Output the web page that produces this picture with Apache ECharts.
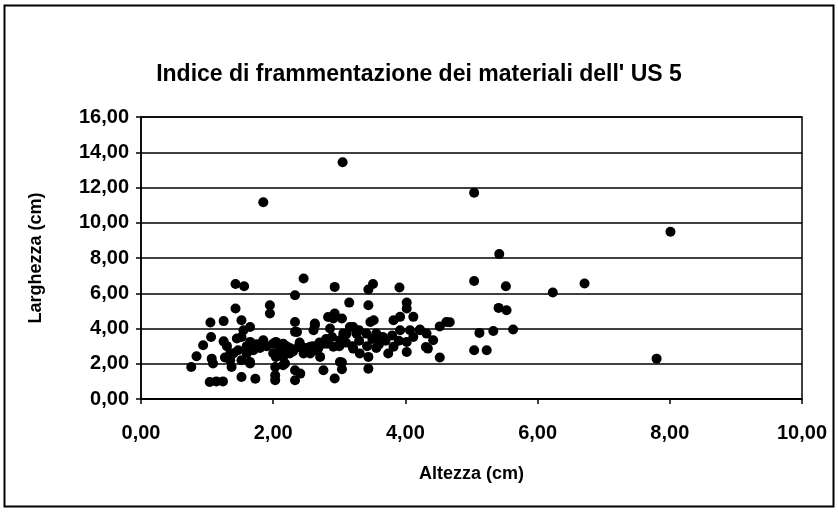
<!DOCTYPE html>
<html>
<head>
<meta charset="utf-8">
<script src="https://cdn.jsdelivr.net/npm/echarts@6/dist/echarts.min.js"></script>
<style>html,body{margin:0;padding:0;background:#fff}#c{width:838px;height:513px}</style>
</head>
<body>
<div id="c"></div>
<script>
const titleText = "Indice di frammentazione dei materiali dell' US 5";
const xName = "Altezza (cm)";
const yName = "Larghezza (cm)";
// Altezza (x) values
const altezza = [
3.05,1.85,5.04,8.01,5.42,5.04,5.52,6.23,6.71,5.41,5.53,4.67,5.12,5.33,5.63,5.04,5.23,7.80,
0.76,0.84,0.94,1.06,1.05,1.25,1.25,1.07,1.09,1.27,1.35,1.37,1.04,1.14,1.24,1.43,1.43,1.56,
1.52,1.55,1.65,1.45,1.52,1.65,1.70,1.47,1.52,1.65,1.52,1.73,1.85,1.95,1.95,2.04,2.04,2.03,
2.03,2.15,2.18,2.33,2.33,2.46,2.33,2.33,2.33,2.25,2.38,2.50,2.60,2.63,2.15,2.25,2.03,
1.80,1.90,2.10,2.20,2.40,2.50,1.75,2.00,2.30,1.60,1.40,1.30,
2.93,3.51,3.44,3.91,3.15,3.44,4.02,4.02,4.12,3.92,3.82,2.93,2.91,3.04,3.47,3.52,4.62,4.52,
2.63,2.61,3.21,3.11,3.26,3.41,3.56,3.66,3.92,4.07,4.22,4.32,4.02,4.12,4.42,4.34,4.02,3.74,
3.82,4.52,2.89,2.81,2.91,3.01,2.68,2.71,2.56,2.41,2.46,3.04,3.04,2.76,2.93,3.44,3.44,3.21,
3.31,2.41,3.00,3.10,3.30,3.50,2.80,3.20,3.60,2.70,3.70,4.22,4.31,
2.00,2.10,2.20,1.60,1.35,1.65,2.15,2.36,2.56,2.66,2.76,2.83,2.86,3.06,3.16,3.01,3.30,3.60,
3.80,3.90,3.56,3.42
];
// Larghezza (y) values
const larghezza = [
13.43,11.16,11.70,9.49,8.22,6.70,6.40,6.04,6.55,5.17,5.04,4.36,3.75,3.86,3.94,2.77,2.77,2.29,
1.82,2.43,3.05,3.52,4.34,4.42,3.27,2.29,2.01,2.35,2.20,1.82,0.96,1.00,1.00,5.13,6.52,6.40,
4.47,3.90,4.09,3.43,3.52,3.24,2.77,2.77,2.20,2.01,1.25,1.15,3.33,5.32,4.85,3.24,2.39,1.82,
1.07,3.14,2.01,4.37,3.81,6.84,5.89,1.63,1.06,2.90,2.95,2.90,3.00,4.19,2.39,2.58,1.34,
2.90,3.00,2.80,3.00,3.20,2.70,3.10,2.60,2.70,3.00,2.60,3.00,
6.36,6.52,6.21,6.33,5.47,5.32,5.47,5.13,4.66,4.66,4.47,4.85,4.57,4.57,4.37,4.47,4.37,4.12,
4.28,3.90,4.09,3.71,3.71,3.71,3.71,3.52,3.90,3.90,3.90,3.71,3.24,3.52,3.33,2.86,2.67,2.58,
2.96,2.35,3.52,3.14,2.96,3.33,2.86,2.39,2.58,3.05,2.58,2.07,1.69,1.63,1.16,2.39,1.72,2.86,
2.58,1.44,3.00,3.20,3.30,3.40,3.40,3.00,3.10,3.20,3.30,3.94,2.95,
3.14,2.96,2.77,2.58,2.58,2.10,1.91,3.80,2.96,2.77,3.14,4.65,4.00,3.71,4.09,2.10,3.90,3.50,
3.60,3.30,2.90,3.00
];
const points = altezza.map((x, i) => [x, larghezza[i]]);
const fmt = v => v.toFixed(2).replace('.', ',');
const font = 'Liberation Sans, Arial, sans-serif';
const chart = echarts.init(document.getElementById('c'), null, {renderer: 'canvas'});
chart.setOption({
  animation: false,
  backgroundColor: '#fff',
  title: {
    text: titleText, left: 'center', top: 58,
    textStyle: {fontFamily: font, fontWeight: 'bold', fontSize: 23, color: '#000'}
  },
  graphic: [{
    type: 'rect', shape: {x: 4.5, y: 5.5, width: 829, height: 501},
    style: {fill: 'none', stroke: '#000', lineWidth: 2}, silent: true, z: -1
  }],
  grid: {left: 141, right: 36, top: 117, bottom: 114, show: true, borderColor: '#000', borderWidth: 1.5, backgroundColor: '#fff'},
  xAxis: {
    type: 'value', min: 0, max: 10, interval: 2,
    name: xName, nameLocation: 'middle', nameGap: 66,
    nameTextStyle: {fontFamily: font, fontWeight: 'bold', fontSize: 18, color: '#000'},
    axisLine: {show: true, lineStyle: {color: '#000', width: 1.5}},
    axisTick: {show: true, length: 5, lineStyle: {color: '#000', width: 1.5}},
    axisLabel: {formatter: fmt, margin: 24, fontFamily: font, fontWeight: 'bold', fontSize: 20, color: '#000'},
    splitLine: {show: false}
  },
  yAxis: {
    type: 'value', min: 0, max: 16, interval: 2,
    name: yName, nameLocation: 'middle', nameGap: 96, nameRotate: 90,
    nameTextStyle: {fontFamily: font, fontWeight: 'bold', fontSize: 18, color: '#000'},
    axisLine: {show: true, lineStyle: {color: '#000', width: 1.5}},
    axisTick: {show: true, length: 5, lineStyle: {color: '#000', width: 1.5}},
    axisLabel: {formatter: fmt, margin: 12, fontFamily: font, fontWeight: 'bold', fontSize: 20, color: '#000'},
    splitLine: {show: true, lineStyle: {color: '#000', width: 1.5}}
  },
  series: [{
    type: 'scatter', data: points, symbol: 'circle', symbolSize: 10,
    itemStyle: {color: '#000', opacity: 1}
  }]
});
</script>
</body>
</html>
